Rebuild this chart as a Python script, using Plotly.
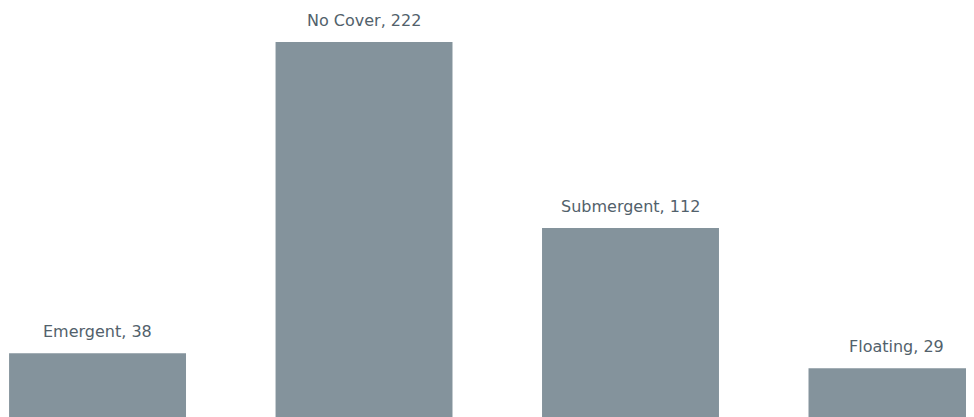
import plotly.graph_objects as go

# cover type counts
cover_types = ['Emergent', 'No Cover', 'Submergent', 'Floating']
counts = [38, 222, 112, 29]

bar_color = '#84939c'
text_color = '#52616b'

fig = go.Figure()
fig.add_trace(go.Bar(
    x=cover_types,
    y=counts,
    width=0.664,
    marker=dict(color=bar_color, line=dict(width=0)),
    hoverinfo='x+y',
))

# labels above bars
for c, v in zip(cover_types, counts):
    fig.add_annotation(
        x=c, y=v,
        text='%s, %d' % (c, v),
        showarrow=False,
        yanchor='bottom',
        yshift=10,
        font=dict(family='DejaVu Sans', size=16, color=text_color),
    )

# page body has an 8px margin, ranges account for it
fig.update_layout(
    width=966, height=417,
    margin=dict(l=0, r=0, t=0, b=0),
    paper_bgcolor='white',
    plot_bgcolor='white',
    showlegend=False,
    xaxis=dict(visible=False, range=[-0.336, 3.289]),
    yaxis=dict(visible=False, range=[-4.5, 242.1]),
)

fig.write_html("out.html")
